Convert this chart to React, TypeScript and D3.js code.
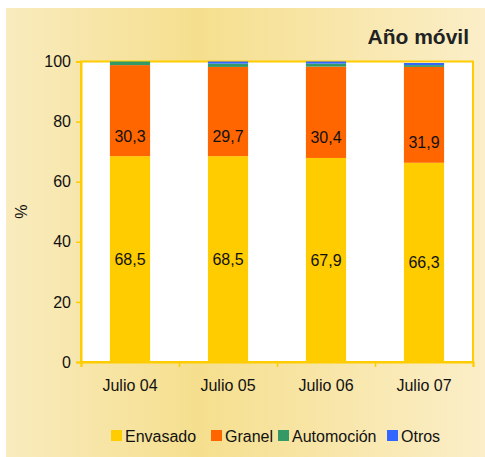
import React, { useEffect, useRef } from 'react';
import * as d3 from 'd3';

const categories = ['Julio 04', 'Julio 05', 'Julio 06', 'Julio 07'];
const envasado = [68.5, 68.5, 67.9, 66.3];
const granel = [30.3, 29.7, 30.4, 31.9];
const automocion = [1.2, 1.1, 1.0, 0.6];
const otros = [0.0, 0.7, 0.7, 0.7];
const seriesNames = ['Envasado', 'Granel', 'Automoción', 'Otros'];
const seriesColors = ['#FFCC00', '#FF6600', '#339966', '#3366FF'];
const yTicks = [0, 20, 40, 60, 80, 100];

export default function App() {
  const ref = useRef<SVGSVGElement | null>(null);

  useEffect(() => {
    if (!ref.current) return;
    const svg = d3.select(ref.current);
    svg.selectAll('*').remove();

    const W = 485, H = 457;
    const left = 81, plotW = 392, top = 61.5, plotBottom = 362;
    const font = "'Liberation Sans', Arial, sans-serif";
    const fs = 16;

    const defs = svg.append('defs');
    const grad = defs.append('linearGradient')
      .attr('id', 'panelGrad')
      .attr('x1', '0%').attr('y1', '0%').attr('x2', '100%').attr('y2', '0%');
    grad.append('stop').attr('offset', '0%').attr('stop-color', '#F9EBBE');
    grad.append('stop').attr('offset', '40%').attr('stop-color', '#F5DF8E');
    grad.append('stop').attr('offset', '100%').attr('stop-color', '#FBEEC8');

    svg.append('rect')
      .attr('x', 6).attr('y', 8)
      .attr('width', W - 6).attr('height', H - 8)
      .attr('fill', 'url(#panelGrad)');

    svg.append('text')
      .attr('x', 469).attr('y', 44)
      .attr('text-anchor', 'end')
      .attr('font-family', font)
      .attr('font-weight', 'bold')
      .attr('font-size', 21)
      .attr('fill', '#222')
      .text('Año móvil');

    const x = d3.scaleBand().domain(categories).range([left, left + plotW]).paddingInner(0.59).paddingOuter(0.295);
    const y = d3.scaleLinear().domain([0, 100]).range([plotBottom, top]);

    // plot area
    svg.append('rect')
      .attr('x', left).attr('y', y(100))
      .attr('width', plotW).attr('height', plotBottom - y(100))
      .attr('fill', '#FFFFFF')
      .attr('stroke', '#FFCC00')
      .attr('stroke-width', 2);

    const data = categories.map((c, i) => ({
      cat: c,
      Envasado: envasado[i],
      Granel: granel[i],
      'Automoción': automocion[i],
      Otros: otros[i],
    }));
    const stacked = d3.stack<any>().keys(seriesNames)(data);

    stacked.forEach((layer, si) => {
      svg.append('g')
        .selectAll('rect')
        .data(layer)
        .join('rect')
        .attr('x', d => x(d.data.cat)!)
        .attr('width', x.bandwidth())
        .attr('y', d => y(d[1]))
        .attr('height', d => y(d[0]) - y(d[1]))
        .attr('fill', seriesColors[si]);
    });

    // value labels
    const fmt = (v: number) => d3.format('.1f')(v).replace('.', ',');
    const lbl = svg.append('g')
      .attr('font-family', font)
      .attr('font-size', fs)
      .attr('fill', '#111')
      .attr('text-anchor', 'middle');
    data.forEach((d, i) => {
      const cx = x(d.cat)! + x.bandwidth() / 2;
      lbl.append('text')
        .attr('x', cx).attr('y', y(envasado[i] / 2))
        .attr('dy', '0.35em')
        .text(fmt(envasado[i]));
      lbl.append('text')
        .attr('x', cx).attr('y', y(envasado[i] + 6.7))
        .attr('dy', '0.35em')
        .text(fmt(granel[i]));
    });

    // axes
    const yAxis = svg.append('g')
      .attr('transform', `translate(${left},0)`)
      .call(d3.axisLeft(y).tickValues(yTicks).tickSize(5).tickPadding(5));
    yAxis.select('.domain').attr('stroke', '#FFCC00').attr('stroke-width', 2);
    yAxis.selectAll('.tick line').attr('stroke', '#FFCC00').attr('stroke-width', 1.5);
    yAxis.selectAll('.tick text')
      .attr('font-family', font).attr('font-size', fs).attr('fill', '#111');

    const xLin = d3.scaleLinear().domain([0, 4]).range([left, left + plotW]);
    const xTickG = svg.append('g')
      .attr('transform', `translate(0,${plotBottom})`)
      .call(d3.axisBottom(xLin).tickValues([0, 1, 2, 3, 4]).tickSize(5).tickFormat(() => ''));
    xTickG.select('.domain').attr('stroke', '#FFCC00').attr('stroke-width', 2);
    xTickG.selectAll('.tick line').attr('stroke', '#FFCC00').attr('stroke-width', 1.5);

    svg.append('g')
      .selectAll('text')
      .data(categories)
      .join('text')
      .attr('x', d => x(d)! + x.bandwidth() / 2)
      .attr('y', 385)
      .attr('dy', '0.35em')
      .attr('text-anchor', 'middle')
      .attr('font-family', font).attr('font-size', fs).attr('fill', '#111')
      .text(d => d);

    svg.append('text')
      .attr('transform', `translate(27,${(y(100) + plotBottom) / 2}) rotate(-90)`)
      .attr('text-anchor', 'middle')
      .attr('font-family', font).attr('font-size', fs).attr('fill', '#111')
      .text('%');

    // legend
    const legendX = [111, 211, 278, 387];
    const leg = svg.append('g');
    seriesNames.forEach((name, i) => {
      leg.append('rect')
        .attr('x', legendX[i]).attr('y', 430)
        .attr('width', 11).attr('height', 11)
        .attr('fill', seriesColors[i]);
      leg.append('text')
        .attr('x', legendX[i] + 14).attr('y', 436)
        .attr('dy', '0.35em')
        .attr('font-family', font).attr('font-size', fs).attr('fill', '#111')
        .text(name);
    });
  }, []);

  return (
    <svg
      ref={ref}
      width={485}
      height={457}
      style={{ position: 'absolute', left: 0, top: 0, display: 'block' }}
    />
  );
}
